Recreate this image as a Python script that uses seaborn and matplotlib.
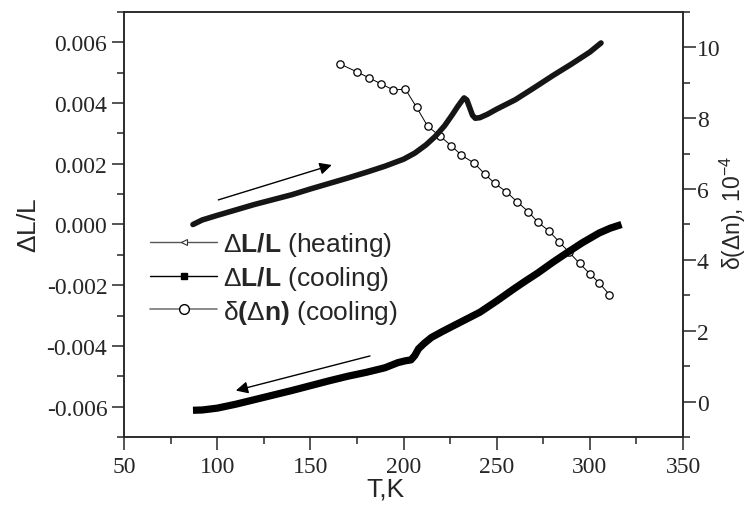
import matplotlib
matplotlib.use("Agg")
import matplotlib.pyplot as plt
from matplotlib.lines import Line2D
from matplotlib.ticker import MultipleLocator
import pandas as pd
import seaborn as sns

# Relative elongation on heating (K, dL/L)
heat_T = [87, 92, 100, 110, 120, 130, 140, 150, 160, 170, 180, 190, 200, 206,
          212, 217, 222, 226, 229, 231, 232.5, 234, 235.5, 237, 238.5, 241,
          245, 250, 260, 270, 280, 290, 300, 306]
heat_dL = [0.0000, 0.00015, 0.00030, 0.00048, 0.00066, 0.00082, 0.00098,
           0.00117, 0.00135, 0.00153, 0.00172, 0.00192, 0.00215, 0.00235,
           0.00262, 0.00290, 0.00325, 0.00360, 0.00388, 0.00405, 0.00417,
           0.00410, 0.00385, 0.00360, 0.00350, 0.00352, 0.00363, 0.00380,
           0.00411, 0.00450, 0.00490, 0.00528, 0.00568, 0.00598]

# Relative elongation on cooling (K, dL/L)
cool_T = [87, 92, 100, 110, 120, 130, 140, 150, 160, 170, 180, 190, 197, 201,
          204, 206, 208, 211, 215, 221, 227, 234, 241, 250, 259, 265, 272,
          280, 288, 296, 305, 311, 317]
cool_dL = [-0.00612, -0.00611, -0.00605, -0.00592, -0.00577, -0.00562,
           -0.00547, -0.00531, -0.00515, -0.00500, -0.00487, -0.00472,
           -0.00455, -0.00449, -0.00446, -0.00432, -0.00410, -0.00392,
           -0.00372, -0.00352, -0.00333, -0.00311, -0.00289, -0.00252,
           -0.00213, -0.00188, -0.00160, -0.00125, -0.00092, -0.00060,
           -0.00028, -0.00012, 0.00000]

# Birefringence change on cooling (K, units of 1e-4)
biref_T = [166, 175, 181.5, 188, 194.5, 201, 207, 213, 219.5, 225.5, 231, 238,
           243.5, 249, 255, 261, 267, 272, 278, 283.5, 289, 294.5, 300, 305,
           310.5]
biref_dn = [9.53, 9.31, 9.14, 8.97, 8.80, 8.82, 8.31, 7.77, 7.50, 7.23, 6.96,
            6.73, 6.43, 6.16, 5.93, 5.64, 5.36, 5.07, 4.82, 4.51, 4.21, 3.90,
            3.61, 3.35, 3.02]

legend_labels = [r"$\Delta\mathbf{L/L}$ (heating)",
                 r"$\Delta\mathbf{L/L}$ (cooling)",
                 r"$\delta\mathbf{(}\Delta\mathbf{n)}$ (cooling)"]

sns.set_style("ticks")
plt.rcParams.update({
    "font.family": ["Liberation Sans", "DejaVu Sans"],
    "mathtext.fontset": "custom",
    "mathtext.rm": "Liberation Sans",
    "mathtext.it": "Liberation Sans",
    "mathtext.bf": "Liberation Sans:bold",
    "axes.linewidth": 1.1,
})

heat = pd.DataFrame({"T": heat_T, "v": heat_dL})
cool = pd.DataFrame({"T": cool_T, "v": cool_dL})
biref = pd.DataFrame({"T": biref_T, "v": biref_dn})

fig = plt.figure(figsize=(7.49, 5.06), dpi=100)
ax = fig.add_axes([0.1656, 0.1344, 0.7463, 0.8399])

sns.lineplot(data=heat, x="T", y="v", ax=ax, sort=False, estimator=None,
             color="#151515", lw=4.0, solid_capstyle="round")
sns.lineplot(data=cool, x="T", y="v", ax=ax, sort=False, estimator=None,
             color="black", lw=5.2, solid_capstyle="butt")

ax.set_xlim(50, 350)
ax.set_ylim(-0.007, 0.007)
ax.xaxis.set_major_locator(MultipleLocator(50))
ax.xaxis.set_minor_locator(MultipleLocator(25))
ax.yaxis.set_major_locator(MultipleLocator(0.002))
ax.yaxis.set_minor_locator(MultipleLocator(0.001))
ax.yaxis.set_major_formatter(plt.FuncFormatter(
    lambda v, p: f"{v:.3f}".replace("-0.000", "0.000")))

ax2 = ax.twinx()
sns.lineplot(data=biref, x="T", y="v", ax=ax2, sort=False, estimator=None,
             color="black", lw=0.7, marker="o", markersize=5.3,
             markerfacecolor="white", markeredgecolor="black",
             markeredgewidth=0.9)
ax2.set_ylim(-1, 11)
ax2.yaxis.set_major_locator(MultipleLocator(2))
ax2.yaxis.set_minor_locator(MultipleLocator(1))

for a in (ax, ax2):
    a.tick_params(which="major", direction="out", length=9, width=1.1,
                  labelsize=17)
    a.tick_params(which="minor", direction="out", length=5, width=1.1)
    for lab in a.get_xticklabels() + a.get_yticklabels():
        lab.set_fontfamily("Liberation Serif")
ax2.tick_params(axis="y", pad=1)
ax.tick_params(axis="y", pad=3)
ax.tick_params(axis="x", pad=5)
for side in ("top", "right", "left", "bottom"):
    ax.spines[side].set_visible(True)
    ax2.spines[side].set_visible(True)

ax.set_xlabel("T,K", fontsize=19, labelpad=-1)
ax.xaxis.label.set_x(0.467)
ax.set_ylabel(r"$\Delta$L/L", fontsize=19, labelpad=4)
ax2.set_ylabel(r"$\delta$($\Delta$n), 10$^{-4}$", fontsize=16.5, labelpad=-2)
ax2.yaxis.label.set_y(0.53)

# Direction arrows for heating and cooling runs
ax.annotate("", xy=(161.5, 0.00196), xytext=(100.6, 0.00081),
            arrowprops=dict(arrowstyle="-|>", color="black", lw=1.0,
                            mutation_scale=18, shrinkA=0, shrinkB=0))
ax.annotate("", xy=(110, -0.00547), xytext=(182, -0.00433),
            arrowprops=dict(arrowstyle="-|>", color="black", lw=1.0,
                            mutation_scale=18, shrinkA=0, shrinkB=0))

handles = [
    Line2D([], [], color="#555555", lw=1.0, marker="<", markersize=5,
           markerfacecolor="white", markeredgecolor="#333333",
           markeredgewidth=0.8),
    Line2D([], [], color="black", lw=1.0, marker="s", markersize=5,
           markerfacecolor="black", markeredgecolor="black"),
    Line2D([], [], color="#777777", lw=1.2, marker="o", markersize=7,
           markerfacecolor="white", markeredgecolor="black",
           markeredgewidth=1.0),
]
ax.legend(handles, legend_labels, loc="upper left",
          bbox_to_anchor=(0.0465, 0.487), frameon=False, fontsize=19,
          handlelength=2.55, handletextpad=0.2, labelspacing=0.22,
          borderaxespad=0, borderpad=0)

ax.set_zorder(ax2.get_zorder() + 1)
ax.patch.set_visible(False)

fig.savefig("out.png", dpi=100)
